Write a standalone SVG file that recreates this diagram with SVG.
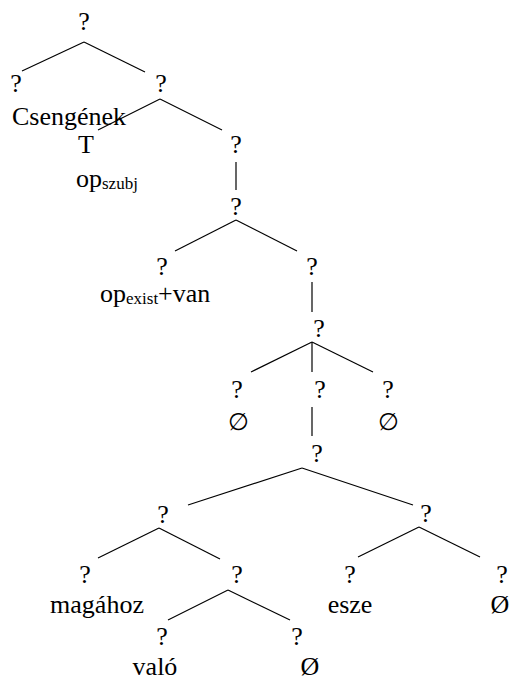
<svg xmlns="http://www.w3.org/2000/svg" width="513" height="680" viewBox="0 0 513 680">
<style>
text{font-family:"Liberation Serif","Times New Roman","DejaVu Serif",serif;font-size:26px;fill:#000}
.q{text-anchor:middle}
.l{text-anchor:start}
.sub{font-size:17px}
.e{text-anchor:middle;font-family:"DejaVu Serif","Liberation Serif",serif;font-size:24px}
#edges line{stroke:#000;stroke-width:1.2}
</style>
<rect width="513" height="680" fill="#fff"/>
<g id="edges">
<line x1="84" y1="42" x2="22" y2="71"/>
<line x1="84" y1="42" x2="145" y2="72"/>
<line x1="160" y1="99" x2="98" y2="130"/>
<line x1="160" y1="99" x2="222" y2="130"/>
<line x1="236" y1="162" x2="236" y2="190"/>
<line x1="236" y1="220" x2="175" y2="251"/>
<line x1="236" y1="220" x2="297" y2="251"/>
<line x1="312" y1="282" x2="312" y2="312"/>
<line x1="312" y1="342" x2="251" y2="372"/>
<line x1="312" y1="342" x2="312" y2="372"/>
<line x1="312" y1="342" x2="373" y2="372"/>
<line x1="312" y1="407" x2="312" y2="436"/>
<line x1="302" y1="468" x2="188" y2="505"/>
<line x1="302" y1="468" x2="413" y2="505"/>
<line x1="159" y1="528" x2="98" y2="558"/>
<line x1="159" y1="528" x2="220" y2="559"/>
<line x1="419" y1="527" x2="358" y2="557"/>
<line x1="419" y1="527" x2="480" y2="557"/>
<line x1="228" y1="590" x2="168" y2="620"/>
<line x1="228" y1="590" x2="290" y2="620"/>
</g>
<g id="n0"><text class="q" x="84" y="30">?</text></g>
<g id="n1"><text class="q" x="16" y="92">?</text><text class="l" x="12" y="125">Csengének</text></g>
<g id="n2"><text class="q" x="161" y="92">?</text></g>
<g id="n3"><text class="q" x="86" y="153">T</text><text class="l" x="76" y="187">op<tspan class="sub" dy="2">szubj</tspan></text></g>
<g id="n4"><text class="q" x="236" y="153">?</text></g>
<g id="n5"><text class="q" x="236" y="215">?</text></g>
<g id="n6"><text class="q" x="162" y="275">?</text><text class="l" x="100" y="302">op<tspan class="sub" dy="2">exist</tspan><tspan dy="-2">+van</tspan></text></g>
<g id="n7"><text class="q" x="312" y="275">?</text></g>
<g id="n8"><text class="q" x="319" y="337">?</text></g>
<g id="n9"><text class="q" x="237" y="398">?</text><text class="e" x="238" y="430">∅</text></g>
<g id="n10"><text class="q" x="320" y="398">?</text></g>
<g id="n11"><text class="q" x="388" y="398">?</text><text class="e" x="388" y="430">∅</text></g>
<g id="n12"><text class="q" x="317" y="462">?</text></g>
<g id="n13"><text class="q" x="163" y="523">?</text></g>
<g id="n14"><text class="q" x="426" y="522">?</text></g>
<g id="n15"><text class="q" x="85" y="583">?</text><text class="q" x="97" y="613">magához</text></g>
<g id="n16"><text class="q" x="237" y="583">?</text></g>
<g id="n17"><text class="q" x="162" y="645">?</text><text class="q" x="155" y="675">való</text></g>
<g id="n18"><text class="q" x="297" y="645">?</text><text class="q" x="310" y="675">Ø</text></g>
<g id="n19"><text class="q" x="350" y="583">?</text><text class="q" x="350" y="613">esze</text></g>
<g id="n20"><text class="q" x="502" y="583">?</text><text class="q" x="500" y="613">Ø</text></g>
</svg>
